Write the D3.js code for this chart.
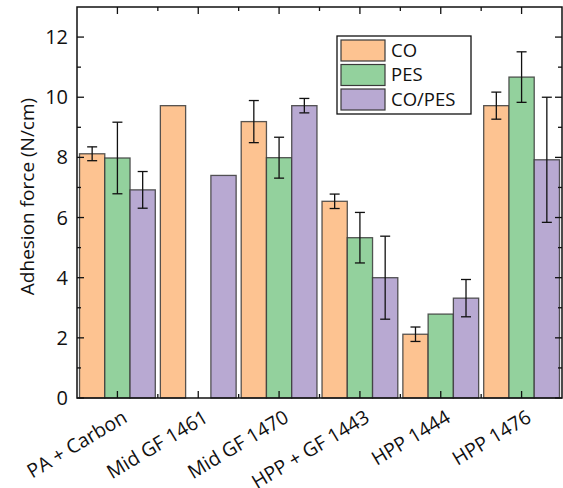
<!DOCTYPE html>
<html>
<head>
<meta charset="utf-8">
<script src="https://cdn.jsdelivr.net/npm/d3@7"></script>
<style>
  body { margin: 0; background: #fff; }
  svg { display: block; font-family: "Open Sans", "DejaVu Sans", sans-serif; }
</style>
</head>
<body>
<div id="chart"></div>
<script>
(function() {
  'use strict';

  // data
  const categories = ['PA + Carbon', 'Mid GF 1461', 'Mid GF 1470', 'HPP + GF 1443', 'HPP 1444', 'HPP 1476'];
  const seriesNames = ['CO', 'PES', 'CO/PES'];
  const coValues = [8.12, 9.72, 9.19, 6.54, 2.12, 9.72];
  const coErrors = [0.23, 0, 0.70, 0.24, 0.24, 0.45];
  const pesValues = [7.98, null, 7.99, 5.33, 2.79, 10.67];
  const pesErrors = [1.19, 0, 0.68, 0.84, 0, 0.84];
  const copesValues = [6.92, 7.40, 9.72, 4.00, 3.32, 7.92];
  const copesErrors = [0.61, 0, 0.24, 1.38, 0.62, 2.08];
  const yTicks = [0, 2, 4, 6, 8, 10, 12];

  const colors = { 'CO': '#fdc391', 'PES': '#93d19d', 'CO/PES': '#b8a9d2' };

  const width = 563, height = 488;
  const margin = { top: 7, right: 1, bottom: 90, left: 77 };
  const plotW = width - margin.left - margin.right;
  const plotH = height - margin.top - margin.bottom;

  const seriesValues = [coValues, pesValues, copesValues];
  const seriesErrors = [coErrors, pesErrors, copesErrors];
  const bars = [];
  categories.forEach((cat, i) => {
    seriesNames.forEach((s, j) => {
      if (seriesValues[j][i] == null) return;
      bars.push({ cat, series: s, value: seriesValues[j][i], err: seriesErrors[j][i] });
    });
  });

  const svg = d3.select('#chart').append('svg')
    .attr('width', width)
    .attr('height', height);

  const g = svg.append('g').attr('transform', `translate(${margin.left},${margin.top})`);

  const x = d3.scaleBand().domain(categories).range([0, plotW]).paddingInner(0).paddingOuter(0);
  const xInner = d3.scaleBand().domain(seriesNames).range([0, x.bandwidth()]).paddingOuter(0.1).paddingInner(0);
  const y = d3.scaleLinear().domain([0, 13]).range([plotH, 0]);

  // Bars
  g.append('g')
    .selectAll('rect')
    .data(bars)
    .join('rect')
    .attr('x', d => x(d.cat) + xInner(d.series))
    .attr('y', d => y(d.value))
    .attr('width', xInner.bandwidth())
    .attr('height', d => y(0) - y(d.value))
    .attr('fill', d => colors[d.series])
    .attr('stroke', '#3a3a3a')
    .attr('stroke-opacity', 0.85)
    .attr('stroke-width', 1.3);

  // Error bars
  const errG = g.append('g')
    .attr('stroke', '#111')
    .attr('stroke-width', 1.3);
  const withErr = bars.filter(d => d.err > 0);
  const cx = d => x(d.cat) + xInner(d.series) + xInner.bandwidth() / 2;
  errG.selectAll('line.v').data(withErr).join('line')
    .attr('x1', cx).attr('x2', cx)
    .attr('y1', d => y(d.value + d.err)).attr('y2', d => y(d.value - d.err));
  errG.selectAll('line.t').data(withErr).join('line')
    .attr('x1', d => cx(d) - 5).attr('x2', d => cx(d) + 5)
    .attr('y1', d => y(d.value + d.err)).attr('y2', d => y(d.value + d.err));
  errG.selectAll('line.b').data(withErr).join('line')
    .attr('x1', d => cx(d) - 5).attr('x2', d => cx(d) + 5)
    .attr('y1', d => y(d.value - d.err)).attr('y2', d => y(d.value - d.err));

  // Frame
  g.append('rect')
    .attr('width', plotW)
    .attr('height', plotH)
    .attr('fill', 'none')
    .attr('stroke', '#111')
    .attr('stroke-width', 1.5);

  // Axis ticks (inward)
  const minorY = d3.range(1, 13, 2);
  const centers = categories.map(c => x(c) + x.bandwidth() / 2);
  const bounds = categories.slice(1).map(c => x(c));
  const tickG = g.append('g').attr('stroke', '#111').attr('stroke-width', 1.3);
  // left and right
  tickG.selectAll('line.yl').data(yTicks).join('line')
    .attr('x1', 0).attr('x2', 7).attr('y1', d => y(d)).attr('y2', d => y(d));
  tickG.selectAll('line.yr').data(yTicks).join('line')
    .attr('x1', plotW).attr('x2', plotW - 7).attr('y1', d => y(d)).attr('y2', d => y(d));
  tickG.selectAll('line.ylm').data(minorY).join('line')
    .attr('x1', 0).attr('x2', 4).attr('y1', d => y(d)).attr('y2', d => y(d));
  tickG.selectAll('line.yrm').data(minorY).join('line')
    .attr('x1', plotW).attr('x2', plotW - 4).attr('y1', d => y(d)).attr('y2', d => y(d));
  // top and bottom
  tickG.selectAll('line.xt').data(centers).join('line')
    .attr('x1', d => d).attr('x2', d => d).attr('y1', 0).attr('y2', 7);
  tickG.selectAll('line.xtm').data(bounds).join('line')
    .attr('x1', d => d).attr('x2', d => d).attr('y1', 0).attr('y2', 4);
  tickG.selectAll('line.xb').data(centers).join('line')
    .attr('x1', d => d).attr('x2', d => d).attr('y1', plotH).attr('y2', plotH - 7);
  tickG.selectAll('line.xbm').data(bounds).join('line')
    .attr('x1', d => d).attr('x2', d => d).attr('y1', plotH).attr('y2', plotH - 4);

  // Y tick labels
  g.append('g')
    .selectAll('text')
    .data(yTicks)
    .join('text')
    .attr('x', -9)
    .attr('y', d => y(d))
    .attr('dy', '0.35em')
    .attr('text-anchor', 'end')
    .attr('font-size', 20)
    .attr('fill', '#111')
    .text(d => d);

  // X tick labels, rotated
  g.append('g')
    .selectAll('text')
    .data(categories)
    .join('text')
    .attr('transform', d => `translate(${x(d) + x.bandwidth() / 2 + 11},${plotH + 23}) rotate(-31)`)
    .attr('text-anchor', 'end')
    .attr('font-size', 19.5)
    .attr('fill', '#111')
    .text(d => d);

  // Y axis title
  svg.append('text')
    .attr('transform', `translate(34,${margin.top + plotH / 2 - 6}) rotate(-90)`)
    .attr('text-anchor', 'middle')
    .attr('font-size', 19)
    .attr('fill', '#111')
    .text('Adhesion force (N/cm)');

  // Legend
  const legend = svg.append('g').attr('transform', 'translate(337,36)');
  legend.append('rect')
    .attr('width', 134)
    .attr('height', 78)
    .attr('fill', '#fff')
    .attr('stroke', '#111')
    .attr('stroke-width', 1.3);
  const item = legend.selectAll('g.item')
    .data(seriesNames)
    .join('g')
    .attr('transform', (d, i) => `translate(4,${4 + i * 24.5})`);
  item.append('rect')
    .attr('width', 44)
    .attr('height', 21)
    .attr('fill', d => colors[d])
    .attr('stroke', '#3a3a3a')
    .attr('stroke-width', 1.2);
  item.append('text')
    .attr('x', 50)
    .attr('y', 10.5)
    .attr('dy', '0.35em')
    .attr('font-size', 18.5)
    .attr('fill', '#111')
    .text(d => d);
})();
</script>
</body>
</html>
